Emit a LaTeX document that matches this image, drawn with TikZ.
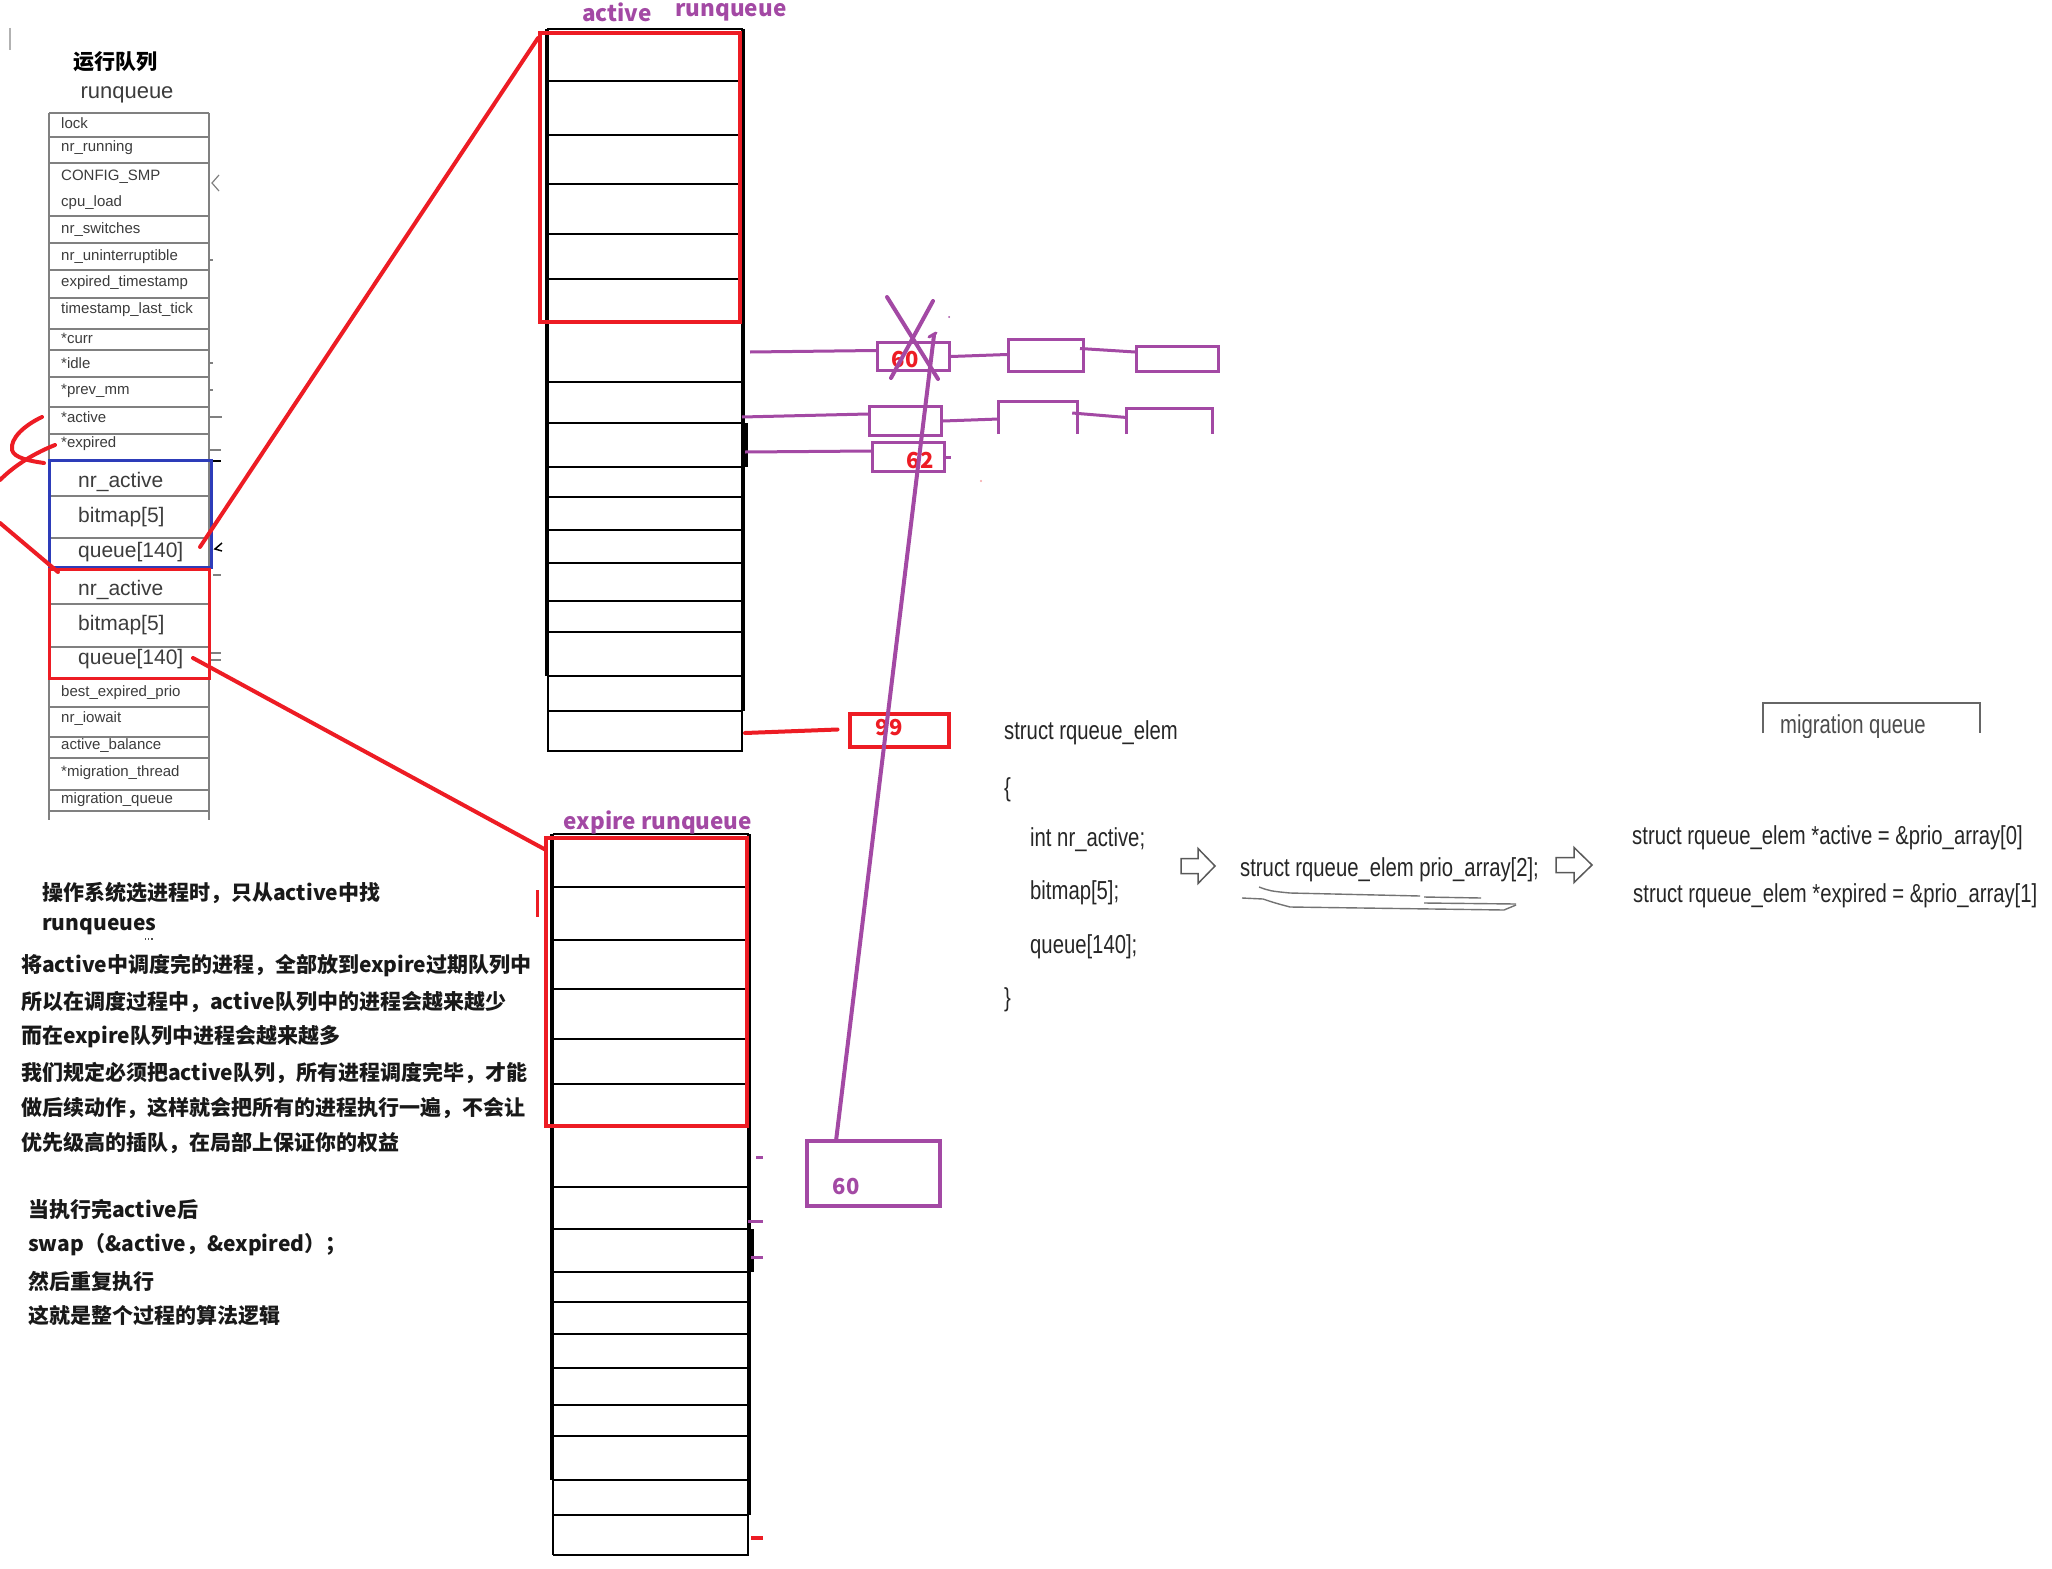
\documentclass[tikz,border=0pt]{standalone}
\usepackage{fontspec}
\setmainfont{Liberation Sans}
\newfontfamily\cjk{Noto Sans CJK SC}
\newfontfamily\narrowf[FakeStretch=0.78]{Liberation Sans}
\usetikzlibrary{calc}
\definecolor{purp}{RGB}{163,73,164}
\definecolor{pred}{RGB}{237,28,36}
\definecolor{bblue}{RGB}{45,60,185}
\definecolor{tgray}{RGB}{60,60,60}
\definecolor{lgray}{RGB}{128,128,128}
\begin{document}
\begin{tikzpicture}[x=1pt,y=-1pt,
  cell/.style={anchor=west, inner sep=0, font=\fontsize{15}{15}\selectfont, text=tgray},
  bigcell/.style={anchor=west, inner sep=0, font=\fontsize{21}{21}\selectfont, text=tgray},
  cjkline/.style={anchor=west, inner sep=0, font=\cjk\bfseries\fontsize{21}{22}\selectfont, text=black!90},
  plabel/.style={inner sep=0, font=\cjk\bfseries\fontsize{22.5}{23}\selectfont, text=purp},
  rnum/.style={inner sep=0, font=\cjk\bfseries\fontsize{22}{22}\selectfont, text=pred},
  pnum/.style={inner sep=0, font=\cjk\bfseries\fontsize{22}{22}\selectfont, text=purp},
  code/.style={anchor=west, inner sep=0, font=\narrowf\fontsize{26}{26}\selectfont, text=black!85},
  pbox/.style={draw=purp, line width=3pt, inner sep=0},
  rbox/.style={draw=pred, line width=4pt, inner sep=0},
  frame/.style={inner sep=0},
  qline/.style={line width=2pt},
  qthick/.style={line width=3.5pt},
  hand/.style={draw=pred, line width=4pt, line cap=round, line join=round},
  plink/.style={draw=purp, line width=3pt},
  tline/.style={draw=lgray, line width=1.2pt},
  hollow/.style={draw=black!65, line width=1.5pt, fill=white}
]
\fill[white] (0,0) rectangle (2052,1568);
\useasboundingbox (0,0) rectangle (2052,1568);

% small grey mark top left
\draw[draw=black!30, line width=1.5pt] (10,28) -- (10,50);

% ---------------- left runqueue table ----------------
\node[inner sep=0, font=\cjk\bfseries\fontsize{21}{21}\selectfont] (title) at (115,62) {运行队列};
\node[inner sep=0, font=\fontsize{22}{22}\selectfont, text=tgray] (rqtitle) at (127,95) {runqueue};

\foreach \y in {113,137,163,216,243,270,298,329,350,377,407,434,460,496,538,568,604,647,678,707,737,758,790,811}
  \draw[tline] (49,\y) -- (209,\y);
\draw[tline] (49,113) -- (49,820);
\draw[tline] (209,113) -- (209,820);

\foreach \t/\y [count=\i] in {lock/123, nr\_running/148, CONFIG\_SMP/177, cpu\_load/203, nr\_switches/230,
  nr\_uninterruptible/257, expired\_timestamp/283, timestamp\_last\_tick/310, *curr/338, *idle/363,
  *prev\_mm/391, *active/417, *expired/444, best\_expired\_prio/693, nr\_iowait/719,
  active\_balance/746, *migration\_thread/773, migration\_queue/800}
  \node[cell] (cell\i) at (61,\y) {\t};

\node[draw=bblue, line width=3pt, minimum width=162, minimum height=107, inner sep=0] (bbox) at (130,513.5) {};
\node[draw=pred, line width=3pt, minimum width=160, minimum height=109, inner sep=0] (rbox) at (129,623.5) {};
\node[bigcell] (bnr) at (78,482) {nr\_active};
\node[bigcell] (bbm) at (78,517) {bitmap[5]};
\node[bigcell] (bq) at (78,552) {queue[140]};
\node[bigcell] (rnr) at (78,590) {nr\_active};
\node[bigcell] (rbm) at (78,625) {bitmap[5]};
\node[bigcell] (rq) at (78,659) {queue[140]};

% stubs right of the table
\draw[tline] (209,260) -- (213,260);
\draw[tline] (209,363) -- (213,363);
\draw[tline] (209,390) -- (213,390);
\draw[tline] (209,417) -- (222,417);
\draw[tline] (210,450) -- (221,450);
\draw[black, line width=1.5pt] (213,461) -- (221,461);
\draw[tline] (219,175) -- (212,183) -- (219,191);
\draw[black, line width=1.5pt] (222,543) -- (215,549) -- (222,551);
\draw[tline] (213,575) -- (221,575);
\draw[tline] (211,653) -- (221,653);
\draw[tline] (211,660) -- (221,660);

% red hand strokes on the left
\draw[hand] (42,417) .. controls (25,425) and (10,438) .. (12,450) .. controls (14,458) and (30,461) .. (44,463);
\draw[hand] (55,445) .. controls (30,455) and (12,468) .. (0,480);
\draw[hand] (0,523) -- (58,572);

% ---------------- active runqueue ----------------
\foreach \y in {29,81,135,184,234,279,322,382,423,467,497,530,563,601,632,676,711,751}
  \draw[qline] (547,\y) -- (743,\y);
\draw[qthick] (547,29) -- (547,676);
\draw[qline] (548,676) -- (548,751);
\draw[qthick] (743,29) -- (743,711);
\draw[qline] (742,711) -- (742,751);
\draw[qthick] (746,423) -- (746,467);
\node[rbox, minimum width=200, minimum height=289] (ared) at (640,177.5) {};
\node[plabel] (lact) at (617,12) {active};
\node[plabel] (lrq) at (731,12) {runqueue};

% ---------------- expire runqueue ----------------
\foreach \y in {834,887,940,989,1039,1084,1127,1187,1229,1272,1302,1334,1368,1405,1436,1480,1515,1555}
  \draw[qline] (553,\y) -- (749,\y);
\draw[qthick] (552,834) -- (552,1480);
\draw[qline] (553,1480) -- (553,1555);
\draw[qthick] (749,834) -- (749,1515);
\draw[qline] (748,1515) -- (748,1555);
\draw[qthick] (752,1229) -- (752,1272);
\node[rbox, minimum width=201, minimum height=288] (ered) at (646.5,982) {};
\node[plabel] (lexp) at (658,822) {expire runqueue};
\draw[draw=pred, line width=3pt] (537,890) -- (537,917);
\draw[plink] (756,1157) -- (763,1157);
\draw[plink] (748,1221) -- (763,1221);
\draw[plink] (751,1257) -- (763,1257);
\draw[draw=pred, line width=4pt] (751,1538) -- (763,1538);

% red links from the prio arrays
\coordinate (qa) at (200,547);
\coordinate (qe) at (193,658);
\draw[hand] (qa) -- ($(ared.north west)+(0,7)$);
\draw[hand] (qe) -- ($(ered.north west)+(2,14)$);

% ---------------- purple linked lists ----------------
\coordinate (s1) at (750,352);
\coordinate (s2) at (742,417);
\coordinate (s3) at (745,452);
\coordinate (s4) at (745,733);

\node[pbox, minimum width=72, minimum height=28] (b60) at (913.5,356.5) {};
\node[pbox, minimum width=75, minimum height=32] (b60b) at (1046,355.5) {};
\node[pbox, minimum width=82, minimum height=25] (b60c) at (1177.5,359) {};
\draw[plink] (s1) -- ($(b60.west)+(0,-6)$);
\draw[plink] (b60.east) -- ($(b60b.west)+(0,-1)$);
\draw[plink] ($(b60b.east)+(-5,-7)$) -- ($(b60c.west)+(0,-7)$);
\node[rnum] (n60) at (905,360) {60};

\node[pbox, minimum width=72, minimum height=29] (r2a) at (905.5,421) {};
\node[frame, minimum width=78, minimum height=32] (r2b) at (1038,418) {};
\node[frame, minimum width=85, minimum height=25] (r2c) at (1169.5,421.5) {};
\draw[plink] (r2b.south west) -- (r2b.north west) -- (r2b.north east) -- (r2b.south east);
\draw[plink] (r2c.south west) -- (r2c.north west) -- (r2c.north east) -- (r2c.south east);
\draw[plink] (s2) -- ($(r2a.west)+(0,-7)$);
\draw[plink] (r2a.east) -- ($(r2b.west)+(0,1)$);
\draw[plink] ($(r2b.east)+(-5,-5)$) -- ($(r2c.west)+(0,-4)$);

\node[pbox, minimum width=72, minimum height=29] (b62) at (908.5,457) {};
\draw[plink] (s3) -- ($(b62.west)+(0,-6)$);
\draw[plink] (b62.east) -- ++(5,0);
\node[rnum] (n62) at (920,461) {62};

% cross over 60
\draw[plink, line width=4pt, line cap=round] (887,297) -- (938,379);
\draw[plink, line width=4pt, line cap=round] (933,301) -- (891,378);

% 99 box
\node[rbox, minimum width=99, minimum height=33] (b99) at (899,730.5) {};
\node[rnum] (n99) at (889,728) {99};
\draw[hand] (s4) -- ($(b99.west)+(-10,-1)$);

% bottom 60 box and long link
\node[pbox, line width=4pt, minimum width=133, minimum height=65] (p60) at (873.5,1173.5) {};
\node[pnum] (m60) at (846,1186) {60};
\coordinate (ptop) at (934,335);
\coordinate (pbot) at (836,1141);
\draw[plink, line width=4pt] (pbot) -- (ptop);
\draw[plink, line width=3pt, line cap=round] (929,337) -- (936,333);
\fill[purp] (949,317) circle (1);
\fill[pred!40] (981,481) circle (1.2);

% ---------------- struct text on the right ----------------
\node[code] (c1) at (1004,733) {struct rqueue\_elem};
\node[code] (c2) at (1004,790) {\{};
\node[code] (c3) at (1030,840) {int nr\_active;};
\node[code] (c4) at (1030,893) {bitmap[5];};
\node[code] (c5) at (1030,947) {queue[140];};
\node[code] (c6) at (1004,1000) {\}};
\node[code] (c7) at (1240,870) {struct rqueue\_elem prio\_array[2];};
\node[code] (c8) at (1632,838) {struct rqueue\_elem *active = \&prio\_array[0]};
\node[code] (c9) at (1633,896) {struct rqueue\_elem *expired = \&prio\_array[1]};

% hollow arrows
\draw[hollow] (1181,858.5) -- (1198,858.5) -- (1198,848.5) -- (1215,866) -- (1198,883.5) -- (1198,873.5) -- (1181,873.5) -- cycle;
\draw[hollow] (1556,857.5) -- (1574,857.5) -- (1574,847.5) -- (1592,865) -- (1574,882.5) -- (1574,872.5) -- (1556,872.5) -- cycle;

% scribbled underlines
\draw[draw=black!55, line width=1.4pt] (1259,887) .. controls (1270,891) .. (1290,893) -- (1420,896);
\draw[draw=black!55, line width=1.4pt] (1424,897) -- (1481,898);
\draw[draw=black!55, line width=1.4pt] (1242,898) -- (1263,899) .. controls (1275,903) .. (1290,907) -- (1504,910) -- (1516,905);
\draw[draw=black!55, line width=1.4pt] (1424,903) -- (1516,904);

% migration queue fragment
\draw[draw=black!60, line width=1.5pt] (1763,733) -- (1763,703) -- (1980,703) -- (1980,733);
\begin{scope}
  \clip (1766,705) rectangle (1977,737);
  \node[code, text=black!70] (mq) at (1780,727) {migration queue};
\end{scope}

% ---------------- Chinese notes ----------------
\node[cjkline] (L1) at (42,893) {操作系统选进程时，只从active中找};
\node[cjkline] (L2) at (42,927) {runqueues};
\node[cjkline] (L3) at (21,966) {将active中调度完的进程，全部放到expire过期队列中};
\node[cjkline] (L4) at (21,1002) {所以在调度过程中，active队列中的进程会越来越少};
\node[cjkline] (L5) at (21,1037) {而在expire队列中进程会越来越多};
\node[cjkline] (L6) at (21,1073) {我们规定必须把active队列，所有进程调度完毕，才能};
\node[cjkline] (L7) at (21,1108) {做后续动作，这样就会把所有的进程执行一遍，不会让};
\node[cjkline] (L8) at (21,1143) {优先级高的插队，在局部上保证你的权益};
\node[cjkline] (L9) at (28,1209) {当执行完active后};
\node[cjkline] (L10) at (28,1245) {swap（\&active，\&expired）；};
\node[cjkline] (L11) at (28,1281) {然后重复执行};
\node[cjkline] (L12) at (28,1315) {这就是整个过程的算法逻辑};
\draw[black!70, line width=1.2pt, dotted] (145,939) -- (154,939);

\end{tikzpicture}
\end{document}
